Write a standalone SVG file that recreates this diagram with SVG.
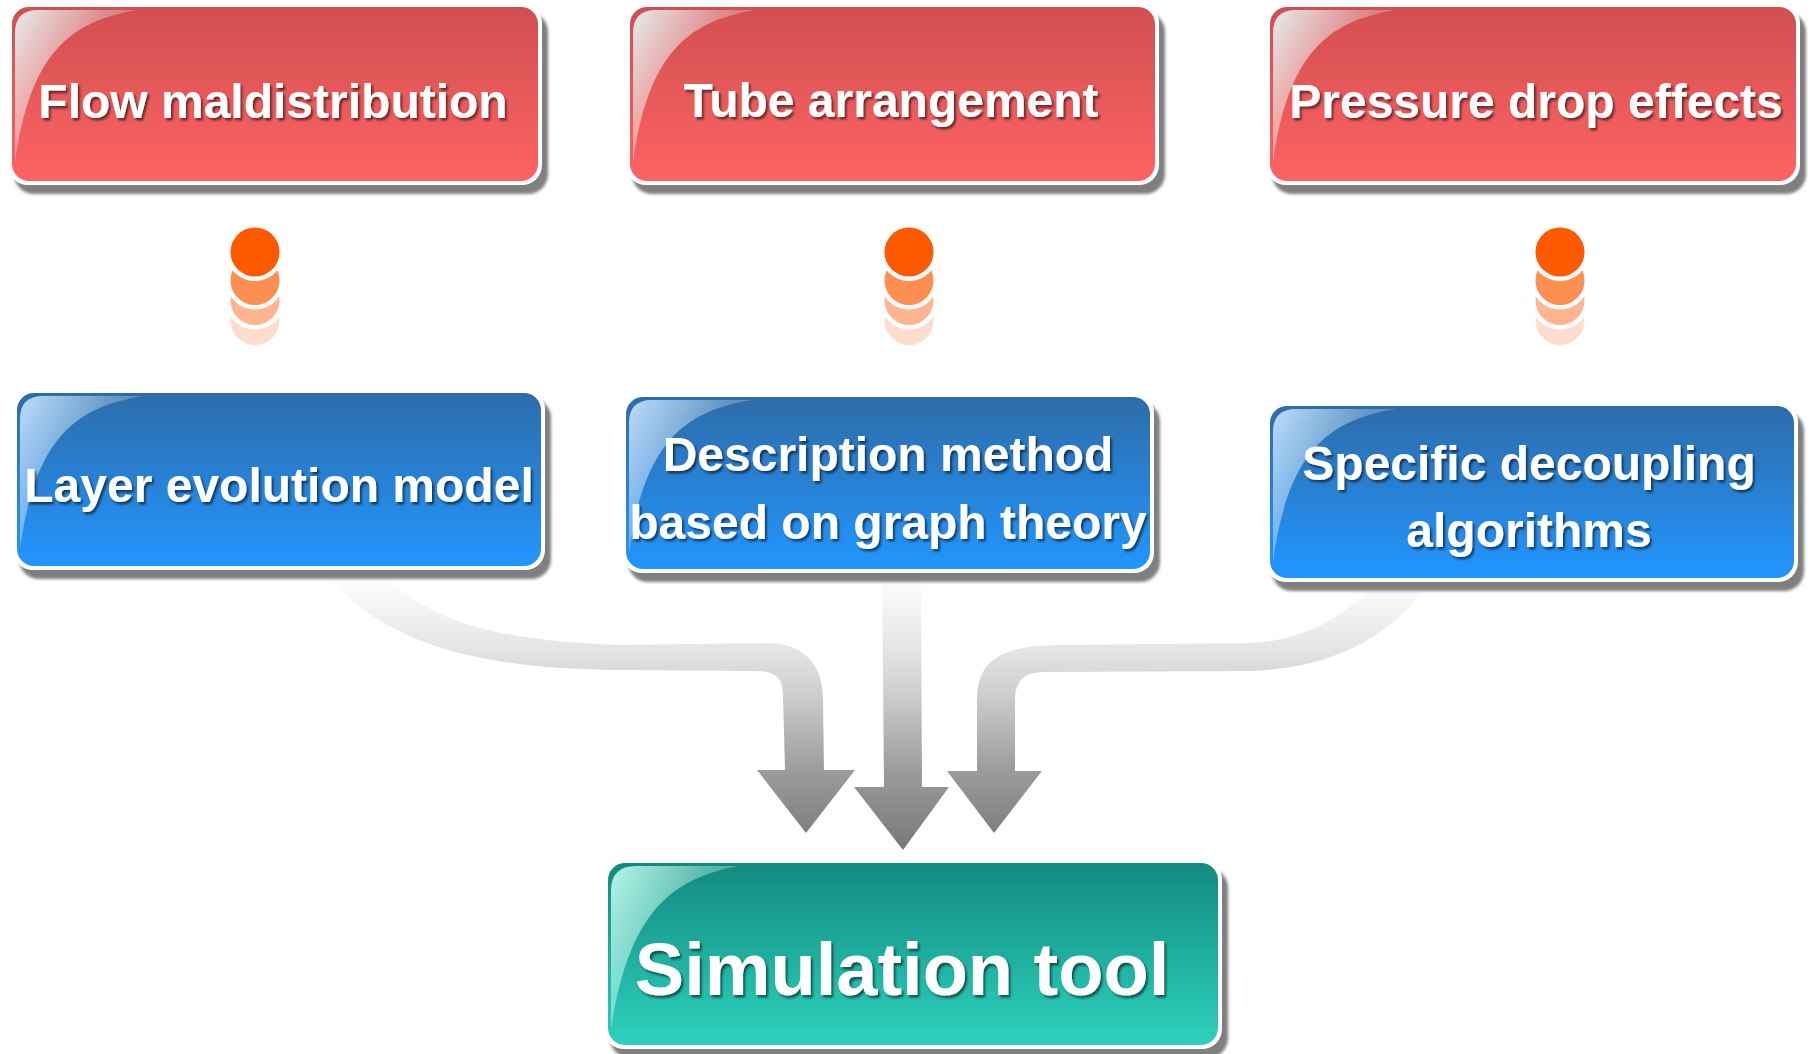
<svg xmlns="http://www.w3.org/2000/svg" width="1815" height="1054" viewBox="0 0 1815 1054">
<defs>
<style>
.shadow{fill:#7f7f7f;filter:url(#blur)}
.border{fill:#ffffff}
.lbl{font-family:"Liberation Sans",Arial,sans-serif;font-weight:bold;fill:#ffffff;text-anchor:middle;filter:url(#ts)}
.s48{font-size:48px}
.s74{font-size:74px}
.arrow{fill:url(#arrowGrad)}
</style>
<filter id="blur" x="-5%" y="-10%" width="110%" height="120%"><feGaussianBlur stdDeviation="1.6"/></filter>
<filter id="ts" x="-5%" y="-30%" width="110%" height="160%"><feDropShadow dx="2" dy="2.5" stdDeviation="1.2" flood-color="#000000" flood-opacity="0.55"/></filter>
<linearGradient id="redGrad" x1="0" y1="0" x2="0" y2="1"><stop offset="0" stop-color="#D14F51"/><stop offset="1" stop-color="#FE6363"/></linearGradient>
<linearGradient id="blueGrad" x1="0" y1="0" x2="0" y2="1"><stop offset="0" stop-color="#2E6CA9"/><stop offset="1" stop-color="#2296FF"/></linearGradient>
<linearGradient id="greenGrad" x1="0" y1="0" x2="0" y2="1"><stop offset="0" stop-color="#118A7E"/><stop offset="1" stop-color="#2DD1BD"/></linearGradient>
<linearGradient id="hlRed" x1="0" y1="0" x2="1" y2="0.7"><stop offset="0" stop-color="#E6F4F4" stop-opacity="0.95"/><stop offset="0.5" stop-color="#F4F8F8" stop-opacity="0.35"/><stop offset="1" stop-color="#ffffff" stop-opacity="0"/></linearGradient>
<linearGradient id="hlBlue" x1="0" y1="0" x2="1" y2="0.7"><stop offset="0" stop-color="#C2E2FF" stop-opacity="0.95"/><stop offset="0.5" stop-color="#D6ECFF" stop-opacity="0.35"/><stop offset="1" stop-color="#ffffff" stop-opacity="0"/></linearGradient>
<linearGradient id="hlGreen" x1="0" y1="0" x2="1" y2="0.7"><stop offset="0" stop-color="#BDFBEE" stop-opacity="0.95"/><stop offset="0.5" stop-color="#D0FFF4" stop-opacity="0.4"/><stop offset="1" stop-color="#ffffff" stop-opacity="0"/></linearGradient>
<linearGradient id="arrowGrad" gradientUnits="userSpaceOnUse" x1="0" y1="575" x2="0" y2="845"><stop offset="0" stop-color="#ffffff"/><stop offset="0.26" stop-color="#e6e6e6"/><stop offset="0.43" stop-color="#d0d0d0"/><stop offset="0.72" stop-color="#9c9c9c"/><stop offset="1" stop-color="#7a7a7a"/></linearGradient>
</defs>
<rect x="0" y="0" width="1815" height="1054" fill="#ffffff"/>

<g id="connectors">
<path id="arrow-left" class="arrow" d="M 387 575 C 422 615, 480 640, 620 645 L 765 643 C 800 643, 823 660, 823 700 L 824 770 L 855 770 L 806 833 L 757 770 L 785 770 L 783 695 C 783 678, 775 671, 755 671 L 620 670 C 480 669, 385 645, 328 575 Z"/>
<path id="arrow-center" class="arrow" d="M 882 570 L 921 570 L 922 787 L 949 787 L 903 850 L 854 787 L 884 787 Z"/>
<path id="arrow-right" class="arrow" d="M 1383 575 C 1345 620, 1300 641, 1250 643 L 1065 645 C 1000 645, 977 660, 977 700 L 977 771 L 947 771 L 994 833 L 1042 771 L 1015 771 L 1015 700 C 1015 680, 1025 672, 1045 672 L 1250 671 C 1330 668, 1392 640, 1435 575 Z"/>
</g>

<g id="dots">
<g id="dot-1">
<circle cx="255" cy="320.5" r="24.5" fill="#FFDDCE"/>
<circle cx="255" cy="300.5" r="29" fill="#ffffff"/>
<circle cx="255" cy="300.5" r="24.5" fill="#FFB591"/>
<circle cx="255" cy="280.5" r="29" fill="#ffffff"/>
<circle cx="255" cy="280.5" r="24.5" fill="#FF8E52"/>
<circle cx="255" cy="252" r="29" fill="#ffffff"/>
<circle cx="255" cy="252" r="24.5" fill="#FF5A00"/>
</g>
<g id="dot-2">
<circle cx="909" cy="320.5" r="24.5" fill="#FFDDCE"/>
<circle cx="909" cy="300.5" r="29" fill="#ffffff"/>
<circle cx="909" cy="300.5" r="24.5" fill="#FFB591"/>
<circle cx="909" cy="280.5" r="29" fill="#ffffff"/>
<circle cx="909" cy="280.5" r="24.5" fill="#FF8E52"/>
<circle cx="909" cy="252" r="29" fill="#ffffff"/>
<circle cx="909" cy="252" r="24.5" fill="#FF5A00"/>
</g>
<g id="dot-3">
<circle cx="1560" cy="320.5" r="24.5" fill="#FFDDCE"/>
<circle cx="1560" cy="300.5" r="29" fill="#ffffff"/>
<circle cx="1560" cy="300.5" r="24.5" fill="#FFB591"/>
<circle cx="1560" cy="280.5" r="29" fill="#ffffff"/>
<circle cx="1560" cy="280.5" r="24.5" fill="#FF8E52"/>
<circle cx="1560" cy="252" r="29" fill="#ffffff"/>
<circle cx="1560" cy="252" r="24.5" fill="#FF5A00"/>
</g>
</g>

<g id="flow-maldistribution" transform="translate(8,3)">
<rect class="shadow" x="6" y="9" width="534" height="182" rx="20"/>
<rect class="border" x="0" y="0" width="534" height="182" rx="20"/>
<rect x="4" y="4" width="526" height="174" rx="17" fill="url(#redGrad)"/>
<path d="M 7 30 Q 7 7 30 7 L 130 7 C 62 18, 22 50, 7 160 Z" fill="url(#hlRed)"/>
<text class="lbl s48" x="265" y="115">Flow maldistribution</text>
</g>

<g id="tube-arrangement" transform="translate(626,3)">
<rect class="shadow" x="6" y="9" width="533" height="182" rx="20"/>
<rect class="border" x="0" y="0" width="533" height="182" rx="20"/>
<rect x="4" y="4" width="525" height="174" rx="17" fill="url(#redGrad)"/>
<path d="M 7 30 Q 7 7 30 7 L 130 7 C 62 18, 22 50, 7 160 Z" fill="url(#hlRed)"/>
<text class="lbl s48" x="265" y="114">Tube arrangement</text>
</g>

<g id="pressure-drop-effects" transform="translate(1266,3)">
<rect class="shadow" x="6" y="9" width="534" height="182" rx="20"/>
<rect class="border" x="0" y="0" width="534" height="182" rx="20"/>
<rect x="4" y="4" width="526" height="174" rx="17" fill="url(#redGrad)"/>
<path d="M 7 30 Q 7 7 30 7 L 130 7 C 62 18, 22 50, 7 160 Z" fill="url(#hlRed)"/>
<text class="lbl s48" x="270" y="115">Pressure drop effects</text>
</g>

<g id="layer-evolution-model" transform="translate(13,389)">
<rect class="shadow" x="6" y="9" width="532" height="181" rx="20"/>
<rect class="border" x="0" y="0" width="532" height="181" rx="20"/>
<rect x="4" y="4" width="524" height="173" rx="17" fill="url(#blueGrad)"/>
<path d="M 7 30 Q 7 7 30 7 L 130 7 C 62 18, 22 50, 7 160 Z" fill="url(#hlBlue)"/>
<text class="lbl s48" x="266" y="113">Layer evolution model</text>
</g>

<g id="description-method" transform="translate(622,393)">
<rect class="shadow" x="6" y="9" width="532" height="180" rx="20"/>
<rect class="border" x="0" y="0" width="532" height="180" rx="20"/>
<rect x="4" y="4" width="524" height="172" rx="17" fill="url(#blueGrad)"/>
<path d="M 7 30 Q 7 7 30 7 L 130 7 C 62 18, 22 50, 7 160 Z" fill="url(#hlBlue)"/>
<text class="lbl s48" x="266" y="78">Description method</text>
<text class="lbl s48" x="266" y="146">based on graph theory</text>
</g>

<g id="specific-decoupling" transform="translate(1266,402)">
<rect class="shadow" x="6" y="9" width="532" height="180" rx="20"/>
<rect class="border" x="0" y="0" width="532" height="180" rx="20"/>
<rect x="4" y="4" width="524" height="172" rx="17" fill="url(#blueGrad)"/>
<path d="M 7 30 Q 7 7 30 7 L 130 7 C 62 18, 22 50, 7 160 Z" fill="url(#hlBlue)"/>
<text class="lbl s48" x="263" y="78">Specific decoupling</text>
<text class="lbl s48" x="263" y="145">algorithms</text>
</g>

<g id="simulation-tool" transform="translate(604,859)">
<rect class="shadow" x="6" y="9" width="618" height="190" rx="20"/>
<rect class="border" x="0" y="0" width="618" height="190" rx="20"/>
<rect x="4" y="4" width="610" height="182" rx="17" fill="url(#greenGrad)"/>
<path d="M 7 32 Q 7 7 32 7 L 135 7 C 65 20, 25 55, 7 170 Z" fill="url(#hlGreen)"/>
<text class="lbl s74" x="298" y="136">Simulation tool</text>
</g>
</svg>
